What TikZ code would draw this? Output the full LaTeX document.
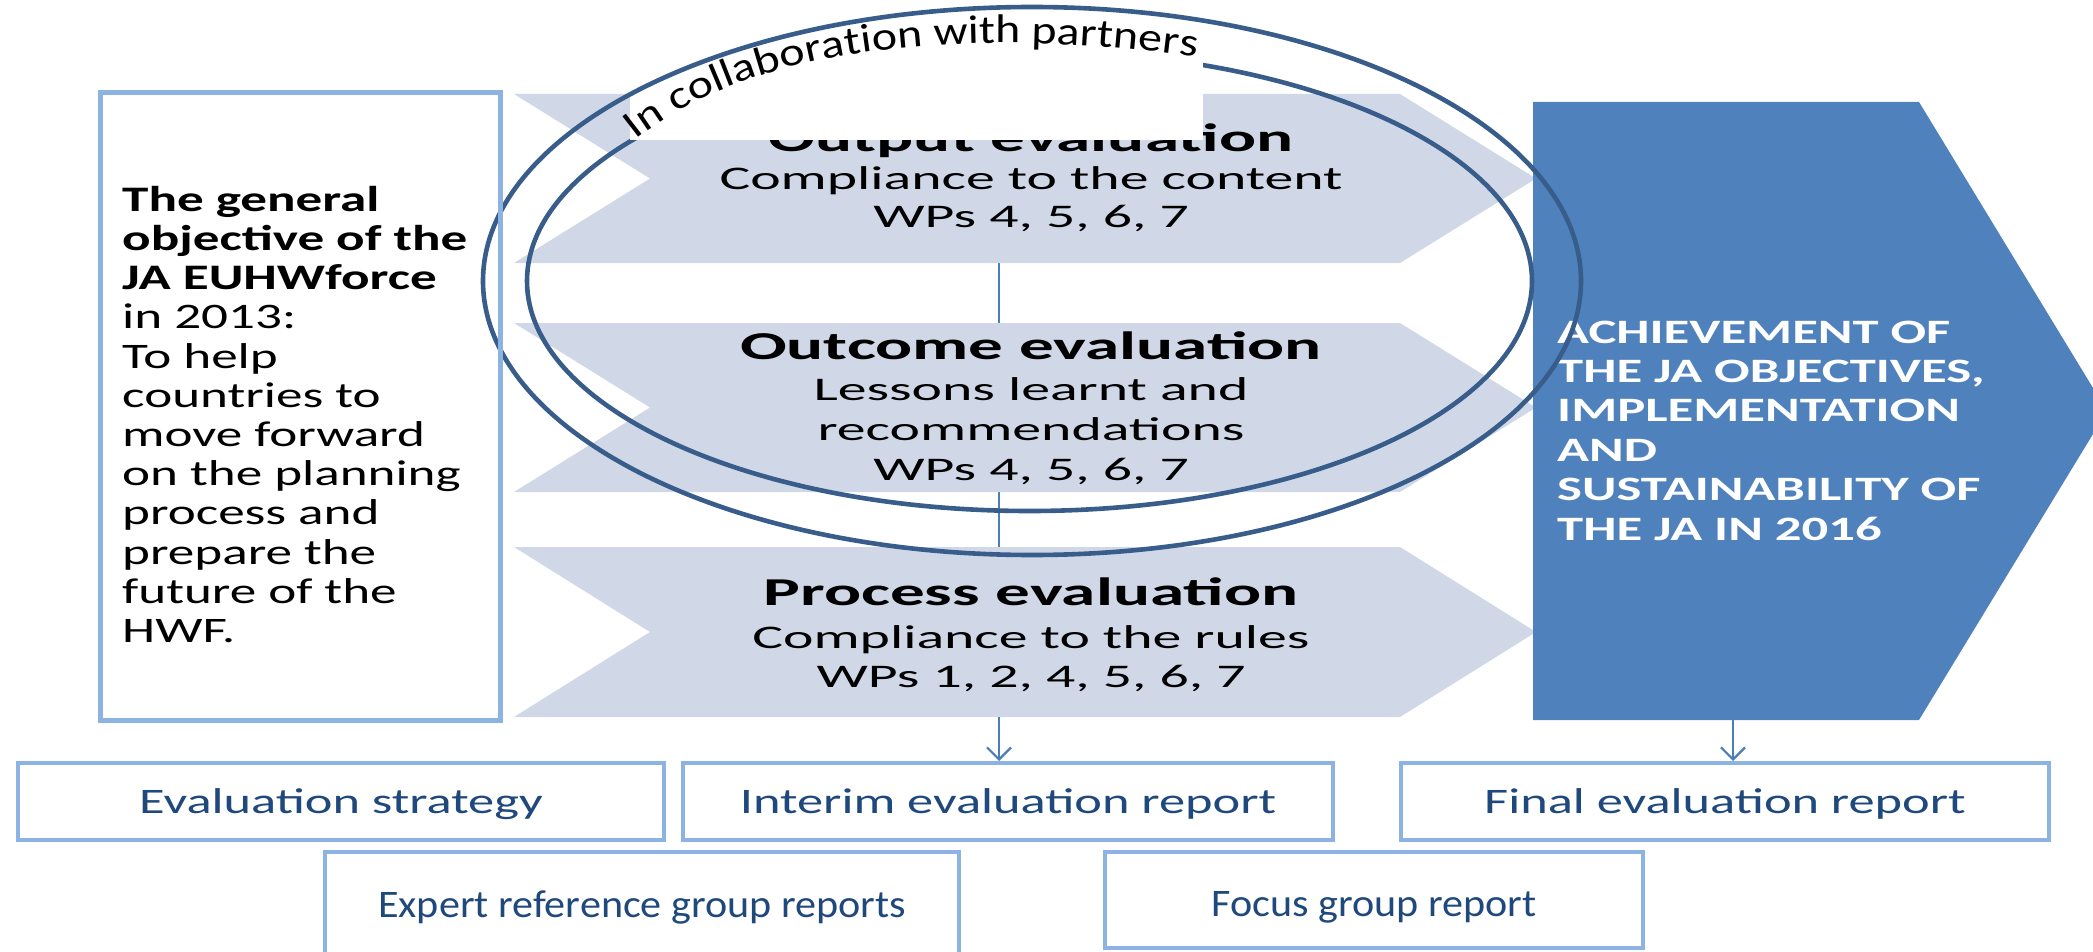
\documentclass[tikz,border=0pt]{standalone}
\usepackage{fontspec}
\setmainfont{Carlito}
\newfontfamily\fLeft{Carlito}[FakeStretch=1.48]
\newfontfamily\fBlue{Carlito}[FakeStretch=1.54]
\newfontfamily\fChev{Carlito}[FakeStretch=1.75]
\newfontfamily\fBot{Carlito}[FakeStretch=1.46]
\newfontfamily\fBotB{Carlito}[FakeStretch=1.08]
\newfontfamily\fArc{Carlito}[FakeStretch=1.2]
\usetikzlibrary{decorations.text,arrows.meta}
\definecolor{chevc}{HTML}{D0D8E8}
\definecolor{bluec}{HTML}{4F81BD}
\definecolor{ringc}{HTML}{385D8A}
\definecolor{boxline}{HTML}{8DB3E2}
\definecolor{bottext}{HTML}{1F497D}
\definecolor{connc}{HTML}{4A7EBB}
\tikzset{
  chevshape/.style={fill=chevc},
  ring/.style={draw=ringc, line width=4.6},
  conn/.style={draw=connc, line width=2.2},
  arrowconn/.style={conn, -{Straight Barb[length=12pt,width=24pt]}},
  lefttext/.style={anchor=base west, inner sep=0, font=\fLeft\fontsize{35.9}{39}\selectfont},
  bluetext/.style={anchor=base west, inner sep=0, text=white, font=\fBlue\bfseries\fontsize{34.2}{39}\selectfont},
  chevtitle/.style={anchor=base, inner sep=0, font=\fChev\bfseries\fontsize{39.5}{40}\selectfont},
  chevsub/.style={anchor=base, inner sep=0, font=\fChev\fontsize{33}{40}\selectfont},
  framebox/.style={draw=boxline, fill=white, line width=4, inner sep=0},
  toprow/.style={framebox, text=bottext, font=\fBot\fontsize{35.9}{40}\selectfont, minimum height=77, text height=25pt, text depth=2pt},
  lowrow/.style={framebox, text=bottext, font=\fBotB\fontsize{39}{44}\selectfont},
}
\begin{document}
\begin{tikzpicture}[x=1pt,y=-1pt]
\clip (0,0) rectangle (2093,952);
\fill[white] (0,0) rectangle (2093,952);

% named ends of the vertical connectors
\coordinate (outB) at (999,263);
\coordinate (outcT) at (999,323);
\coordinate (outcB) at (999,492);
\coordinate (procT) at (999,547);
\coordinate (procB) at (999,717);
\coordinate (goalB) at (1733,720);

\draw[conn] (outB) -- (outcT);
\draw[conn] (outcB) -- (procT);

% chevrons
\fill[chevshape] (514,94) -- (1400,94) -- (1536,178.5) -- (1400,263) -- (514,263) -- (650,178.5) -- cycle;
\fill[chevshape] (514,323) -- (1400,323) -- (1536,407.5) -- (1400,492) -- (514,492) -- (650,407.5) -- cycle;
\fill[chevshape] (514,547) -- (1400,547) -- (1536,632) -- (1400,717) -- (514,717) -- (650,632) -- cycle;

% chevron texts
\node[chevtitle] (outT) at (1031,152) {Output evaluation};
\node[chevsub] (outS1) at (1031,190) {Compliance to the content};
\node[chevsub] (outS2) at (1031,227) {WPs 4, 5, 6, 7};

\node[chevtitle] (outcT1) at (1031,359) {Outcome evaluation};
\node[chevsub] (outcS1) at (1031,400) {Lessons learnt and};
\node[chevsub] (outcS2) at (1031,440) {recommendations};
\node[chevsub] (outcS3) at (1031,480) {WPs 4, 5, 6, 7};

\node[chevtitle] (procT1) at (1031,605) {Process evaluation};
\node[chevsub] (procS1) at (1031,648) {Compliance to the rules};
\node[chevsub] (procS2) at (1031,687) {WPs 1, 2, 4, 5, 6, 7};

% goal pentagon
\fill[bluec] (1533,102) -- (1919,102) -- (2107,411) -- (1919,720) -- (1533,720) -- cycle;
\foreach \t [count=\i from 0] in {ACHIEVEMENT OF, {THE JA OBJECTIVES,}, IMPLEMENTATION, AND, SUSTAINABILITY OF, THE JA IN 2016}
  \node[bluetext] (goal\i) at (1557,343+39.4*\i) {\t};

% inner ring
\draw[ring] (1029.5,281) ellipse [x radius=502.5, y radius=230];

% white label field
\fill[white] (630,45) rectangle (1203,140);

% outer ring
\draw[ring] (1032,281) ellipse [x radius=549, y radius=274];

% arched label
\path[decorate, decoration={text along path, text={|\fArc\fontsize{40}{46}\selectfont|In collaboration with partners}}]
  (636,140) .. controls (769,33) and (1007,30) .. (1205,58);

% left objective box
\node[draw=boxline, line width=5, inner sep=0, minimum width=400, minimum height=627] (obj) at (300,406.5) {};
\foreach \t [count=\i from 0] in {{\bfseries The general}, {\bfseries objective of the}, {\bfseries JA EUHWforce}, in 2013:, To help, countries to, move forward, on the planning, process and, prepare the, future of the, HWF.}
  \node[lefttext] (obj\i) at (122,211.3+39.2*\i) {\t};

% bottom boxes
\node[toprow, minimum width=646] (strategy) at (341,801.5) {Evaluation strategy};
\node[toprow, minimum width=650] (interim) at (1008,801.5) {Interim evaluation report};
\node[toprow, minimum width=648] (final) at (1725,801.5) {Final evaluation report};
\node[lowrow, minimum width=634, minimum height=113, text height=19pt, text depth=2pt] (expert) at (642,908.5) {Expert reference group reports};
\node[lowrow, minimum width=538, minimum height=96, text height=34pt, text depth=2pt] (focus) at (1374,900) {Focus group report};

% arrows to reports
\draw[arrowconn] (procB) -- (procB |- interim.north);
\draw[arrowconn] (goalB) -- (goalB |- final.north);
\end{tikzpicture}
\end{document}
